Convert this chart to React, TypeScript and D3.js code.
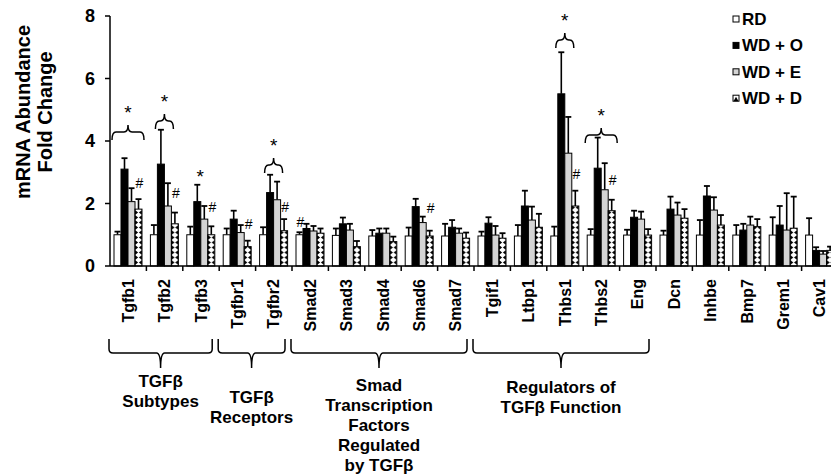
import React from "react";
import * as d3 from "d3";

// genes on the x axis
const categories = [
  "Tgfb1", "Tgfb2", "Tgfb3", "Tgfbr1", "Tgfbr2",
  "Smad2", "Smad3", "Smad4", "Smad6", "Smad7",
  "Tgif1", "Ltbp1", "Thbs1", "Thbs2", "Eng",
  "Dcn", "Inhbe", "Bmp7", "Grem1", "Cav1",
];
const seriesNames = ["RD", "WD + O", "WD + E", "WD + D"];

// mean fold change and top of error bar (mean + SE)
const rd = [1.0, 1.0, 1.0, 1.0, 1.0, 1.0, 0.98, 0.96, 0.96, 0.96, 0.96, 0.96, 0.96, 0.99, 0.99, 0.99, 0.99, 0.99, 0.99, 0.99];
const rdErr = [1.1, 1.31, 1.26, 1.2, 1.24, 1.08, 1.2, 1.15, 1.23, 1.35, 1.1, 1.31, 1.26, 1.18, 1.16, 1.13, 1.47, 1.31, 1.56, 1.53];
const wdO = [3.1, 3.26, 2.06, 1.5, 2.35, 1.2, 1.35, 1.05, 1.9, 1.24, 1.37, 1.92, 5.51, 3.13, 1.56, 1.82, 2.24, 1.15, 1.31, 0.5];
const wdOErr = [3.45, 4.36, 2.6, 1.77, 2.92, 1.35, 1.55, 1.2, 2.15, 1.47, 1.56, 2.41, 6.84, 4.11, 1.77, 2.22, 2.56, 1.35, 1.92, 0.6];
const wdE = [2.06, 1.92, 1.5, 1.07, 2.12, 1.12, 1.15, 1.05, 1.39, 1.05, 0.99, 1.47, 3.61, 2.44, 1.5, 1.63, 1.79, 1.31, 1.15, 0.38];
const wdEErr = [2.49, 2.65, 1.92, 1.31, 2.7, 1.28, 1.35, 1.2, 1.58, 1.2, 1.28, 1.9, 4.77, 3.29, 1.74, 2.03, 2.2, 1.58, 2.33, 0.48];
const wdD = [1.82, 1.35, 1.0, 0.62, 1.13, 1.05, 0.62, 0.78, 0.96, 0.89, 0.89, 1.24, 1.92, 1.77, 0.99, 1.53, 1.31, 1.26, 1.21, 0.5];
const wdDErr = [2.14, 1.71, 1.27, 0.81, 1.5, 1.2, 0.8, 0.94, 1.13, 1.07, 1.05, 1.67, 2.41, 2.12, 1.18, 1.82, 1.63, 1.5, 2.22, 0.62];

const yTicks = [0, 2, 4, 6, 8];

// significance marks: braces with "*" (bar span + level), lone stars, "#"
const braces = [
  { cat: "Tgfb1", from: 0, to: 3, level: 4.29 },
  { cat: "Tgfb2", from: 1, to: 2, level: 4.64 },
  { cat: "Tgfbr2", from: 1, to: 2, level: 3.23 },
  { cat: "Thbs1", from: 1, to: 2, level: 7.23 },
  { cat: "Thbs2", from: 0, to: 3, level: 4.19 },
];
const stars = [{ cat: "Tgfb3", bar: 1.4, level: 2.98 }];
const hashes = [
  { cat: "Tgfb1", bar: 3, level: 2.66 },
  { cat: "Tgfb2", bar: 3, level: 2.34 },
  { cat: "Tgfb3", bar: 3, level: 1.89 },
  { cat: "Tgfbr1", bar: 3, level: 1.34 },
  { cat: "Tgfbr2", bar: 3, level: 1.89 },
  { cat: "Smad2", bar: 0, level: 1.41 },
  { cat: "Smad6", bar: 3, level: 1.86 },
  { cat: "Thbs1", bar: 3, level: 2.94 },
  { cat: "Thbs2", bar: 3, level: 2.75 },
];

const groups = [
  { first: "Tgfb1", last: "Tgfb3", lines: ["TGFβ", "Subtypes"] },
  { first: "Tgfbr1", last: "Tgfbr2", lines: ["TGFβ", "Receptors"] },
  { first: "Smad2", last: "Smad7", lines: ["Smad", "Transcription", "Factors", "Regulated", "by TGFβ"] },
  { first: "Tgif1", last: "Eng", lines: ["Regulators of", "TGFβ Function"] },
];
const groupLabelTop = [387, 403, 391, 393];

const FONT = "Arial, 'Liberation Sans', Helvetica, sans-serif";
const W = 831;
const H = 476;
const STEP = 36.4;

const series = [
  { name: seriesNames[0], values: rd, errs: rdErr, fill: "#ffffff" },
  { name: seriesNames[1], values: wdO, errs: wdOErr, fill: "#000000" },
  { name: seriesNames[2], values: wdE, errs: wdEErr, fill: "#d4d4d4" },
  { name: seriesNames[3], values: wdD, errs: wdDErr, fill: "url(#dpat)" },
];

function braceUp(xa: number, xb: number, yl: number) {
  const xm = (xa + xb) / 2;
  return `M${xa},${yl + 8} Q${xa},${yl} ${xa + 4},${yl} L${xm - 4},${yl} Q${xm},${yl} ${xm},${yl - 7} Q${xm},${yl} ${xm + 4},${yl} L${xb - 4},${yl} Q${xb},${yl} ${xb},${yl + 8}`;
}

function braceDown(xa: number, xb: number, yEnds: number, yl: number, yTip: number) {
  const xm = (xa + xb) / 2;
  return `M${xa},${yEnds} L${xa},${yl - 4} Q${xa},${yl} ${xa + 4},${yl} L${xm - 4},${yl} Q${xm},${yl} ${xm},${yTip} Q${xm},${yl} ${xm + 4},${yl} L${xb - 4},${yl} Q${xb},${yl} ${xb},${yl - 4} L${xb},${yEnds}`;
}

export default function App() {
  const x = d3
    .scaleBand<string>()
    .domain(categories)
    .range([110, 110 + categories.length * STEP]);
  const inner = d3.scaleBand<string>().domain(seriesNames).range([4, 32]);
  const y = d3.scaleLinear().domain([0, 8]).range([266, 16]);
  const bw = inner.bandwidth();
  const barX = (cat: string, i: number) => (x(cat) as number) + (inner(seriesNames[0]) as number) + i * bw;

  const patX = (x(categories[0]) as number) + (inner(seriesNames[3]) as number);

  return (
    <svg
      width={W}
      height={H}
      style={{ position: "absolute", left: 0, top: 0, background: "#fff" }}
      fontFamily={FONT}
    >
      <defs>
        <pattern id="dpat" patternUnits="userSpaceOnUse" x={patX} y={0} width={x.step()} height={5}>
          <rect x={0} y={0} width={bw} height={5} fill="#fff" />
          <path
            d={`M0,0 L${bw / 2 - 0.4},2.5 L0,5 Z M${bw},0 L${bw / 2 + 0.4},2.5 L${bw},5 Z`}
            fill="#000"
          />
        </pattern>
      </defs>

      {/* y axis title */}
      <text transform="translate(30,112) rotate(-90)" textAnchor="middle" fontSize={20} fontWeight="bold">
        mRNA Abundance
      </text>
      <text transform="translate(52,112) rotate(-90)" textAnchor="middle" fontSize={20} fontWeight="bold">
        Fold Change
      </text>

      {/* y axis */}
      <line x1={110} x2={110} y1={y(8)} y2={y(0)} stroke="#000" strokeWidth={1.5} />
      {yTicks.map((t) => (
        <g key={t}>
          <line x1={105} x2={110} y1={y(t)} y2={y(t)} stroke="#000" strokeWidth={1.5} />
          <text x={95} y={y(t)} dy="0.35em" textAnchor="end" fontSize={18} fontWeight="bold">
            {t}
          </text>
        </g>
      ))}

      {/* bars */}
      {categories.map((cat, ci) => (
        <g key={cat}>
          {series.map((s, si) => {
            const bx = barX(cat, si);
            return (
              <g key={s.name}>
                <line
                  x1={bx + bw / 2}
                  x2={bx + bw / 2}
                  y1={y(s.values[ci])}
                  y2={y(s.errs[ci])}
                  stroke="#000"
                  strokeWidth={1.6}
                />
                <line x1={bx + 0.5} x2={bx + bw - 0.5} y1={y(s.errs[ci])} y2={y(s.errs[ci])} stroke="#000" strokeWidth={1.8} />
                <rect
                  x={bx}
                  y={y(s.values[ci])}
                  width={bw}
                  height={y(0) - y(s.values[ci])}
                  fill={s.fill}
                  stroke="#000"
                  strokeWidth={1}
                />
              </g>
            );
          })}
        </g>
      ))}

      {/* x axis */}
      <line x1={110} x2={W} y1={y(0)} y2={y(0)} stroke="#000" strokeWidth={1.5} />
      {categories.map((cat) => (
        <line
          key={"t" + cat}
          x1={(x(cat) as number) + x.step()}
          x2={(x(cat) as number) + x.step()}
          y1={y(0)}
          y2={y(0) + 5}
          stroke="#000"
          strokeWidth={1.5}
        />
      ))}
      {categories.map((cat) => (
        <text
          key={"l" + cat}
          transform={`translate(${(x(cat) as number) + x.bandwidth() / 2},279) rotate(-90)`}
          dy="0.35em"
          textAnchor="end"
          fontSize={16}
          fontWeight="bold"
        >
          {cat}
        </text>
      ))}

      {/* braces with stars */}
      {braces.map((b) => {
        const xa = barX(b.cat, b.from) - 2;
        const xb = barX(b.cat, b.to) + bw + 2;
        const yl = y(b.level);
        return (
          <g key={"b" + b.cat}>
            <path d={braceUp(xa, xb, yl)} fill="none" stroke="#000" strokeWidth={1.5} />
            <text x={(xa + xb) / 2} y={yl - 13} textAnchor="middle" fontSize={19}>
              *
            </text>
          </g>
        );
      })}
      {stars.map((s) => (
        <text key={"s" + s.cat} x={barX(s.cat, s.bar) + bw / 2} y={y(s.level) + 10} textAnchor="middle" fontSize={19}>
          *
        </text>
      ))}
      {hashes.map((h) => (
        <text key={"h" + h.cat} x={barX(h.cat, h.bar) + bw / 2 + 1} y={y(h.level) + 5} textAnchor="middle" fontSize={14}>
          #
        </text>
      ))}

      {/* category group brackets */}
      {groups.map((g, gi) => {
        const xa = (x(g.first) as number) - 1;
        const xb = (x(g.last) as number) + x.bandwidth() - 7;
        const xm = (xa + xb) / 2;
        return (
          <g key={"g" + gi}>
            <path d={braceDown(xa, xb, 339, 353, 368)} fill="none" stroke="#000" strokeWidth={1.5} />
            {g.lines.map((ln, li) => (
              <text key={li} x={xm} y={groupLabelTop[gi] + li * 20} textAnchor="middle" fontSize={17} fontWeight="bold">
                {ln}
              </text>
            ))}
          </g>
        );
      })}

      {/* legend */}
      {series.map((s, i) => {
        const ly = 19 + i * 26.4;
        return (
          <g key={"lg" + s.name}>
            <rect x={733} y={ly - 3} width={6} height={6} fill={i === 3 ? "#fff" : s.fill} stroke="#000" strokeWidth={1} />
            {i === 3 && <path d={`M733.5,${ly + 3} L736,${ly - 1.5} L738.5,${ly + 3} Z`} fill="#000" />}
            <text x={742} y={ly} dy="0.35em" fontSize={17} fontWeight="bold">
              {s.name}
            </text>
          </g>
        );
      })}
    </svg>
  );
}
